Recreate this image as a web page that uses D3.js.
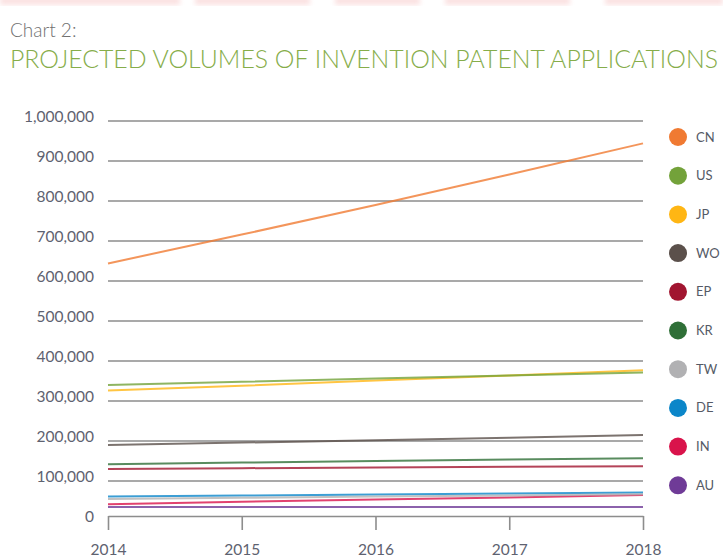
<!DOCTYPE html>
<html><head><meta charset="utf-8">
<script src="https://cdn.jsdelivr.net/npm/d3@7"></script>
<style>body{margin:0;background:#fff;}svg{display:block;}</style>
</head><body>
<svg id="c" width="723" height="557"></svg>
<script>
const years = [2014, 2015, 2016, 2017, 2018];
const yTicks = [0, 100000, 200000, 300000, 400000, 500000, 600000, 700000, 800000, 900000, 1000000];
const seriesNames = ["CN", "US", "JP", "WO", "EP", "KR", "TW", "DE", "IN", "AU"];
const seriesColors = ["#f07a32", "#73a23a", "#ffb614", "#5b504b", "#a11530", "#2f6f37", "#b1b1b3", "#0b86c9", "#d9134b", "#6f3b97"];
const CN = [644000, 716000, 790000, 866000, 944000];
const US = [340000, 348000, 356000, 364000, 371000];
const JP = [326000, 338000, 351000, 364000, 377000];
const WO = [190000, 196000, 202000, 208000, 215000];
const EP = [130000, 132000, 134000, 135500, 137000];
const KR = [142000, 146000, 150000, 153500, 157000];
const TW = [55000, 58000, 61000, 64000, 67000];
const DE = [61000, 63500, 66000, 68500, 71000];
const IN = [42000, 48000, 53500, 59000, 65000];
const AU = [35000, 35000, 35000, 35000, 35000];
const seriesValues = [CN, US, JP, WO, EP, KR, TW, DE, IN, AU];

const svg = d3.select("#c");
const x = d3.scaleLinear().domain([2014, 2018]).range([108, 643]);
const y = d3.scaleLinear().domain([0, 1000000]).range([521, 121]);

// faint blurred top strip
const defs = svg.append("defs");
defs.append("filter").attr("id","blur").append("feGaussianBlur").attr("stdDeviation",2.5);
const strip = svg.append("g").attr("filter","url(#blur)");
[[0,180],[195,115],[335,85],[445,125],[605,118]].forEach(([a,w])=>{
  strip.append("rect").attr("x",a).attr("y",-4).attr("width",w).attr("height",9).attr("fill","#fbe2e2");
});

svg.append("text").attr("x",10).attr("y",37).attr("font-family","Lato, 'Open Sans', sans-serif")
  .attr("font-weight",300).attr("font-size",19).attr("fill","#707070").text("Chart 2:");
svg.append("text").attr("x",10).attr("y",68).attr("font-family","Lato, 'Open Sans', sans-serif")
  .attr("font-weight",300).attr("font-size",25).attr("fill","#86ad4a")
  .attr("textLength",708).attr("lengthAdjust","spacingAndGlyphs")
  .text("PROJECTED VOLUMES OF INVENTION PATENT APPLICATIONS");

// gridlines
svg.append("g").selectAll("line").data(yTicks.filter(d=>d>0)).join("line")
  .attr("x1",x(2014)).attr("x2",x(2018)).attr("y1",d=>y(d)).attr("y2",d=>y(d))
  .attr("stroke","#8d8d8d").attr("stroke-width",1.6);

// y labels
svg.append("g").selectAll("text").data(yTicks).join("text")
  .attr("x",94).attr("y",d=>y(d)-4).attr("dy","0.35em").attr("text-anchor","end")
  .attr("font-family","Lato, 'Open Sans', sans-serif").attr("font-size",15.5).attr("fill","#5e6270")
  .text(d=>d3.format(",")(d));

// x axis
const xAxis = d3.axisBottom(x).tickValues(years).tickFormat(d3.format("d")).tickSize(14).tickSizeOuter(0);
const gx = svg.append("g").attr("transform","translate(0,516)").call(xAxis);
gx.select(".domain").attr("stroke","#8d8d8d").attr("stroke-width",1.6);
gx.selectAll(".tick line").attr("stroke","#8d8d8d").attr("stroke-width",1.6);
gx.selectAll(".tick text").attr("font-family","Lato, 'Open Sans', sans-serif").attr("font-size",15.5)
  .attr("fill","#5e6270").attr("dy","1.45em");

// lines (draw in reverse so CN on top)
const line = d3.line().x((d,i)=>x(years[i])).y(d=>y(d));
const order = d3.range(seriesNames.length).reverse();
svg.append("g").selectAll("path").data(order).join("path")
  .attr("d",i=>line(seriesValues[i])).attr("fill","none")
  .attr("stroke",i=>seriesColors[i]).attr("stroke-width",2).attr("stroke-opacity",0.8);

// legend
const lg = svg.append("g").selectAll("g").data(seriesNames).join("g")
  .attr("transform",(d,i)=>`translate(678,${137 + i*38.7})`);
lg.append("circle").attr("r",9).attr("fill",(d,i)=>seriesColors[i]);
lg.append("text").attr("x",18).attr("dy","0.35em").attr("font-family","Lato, 'Open Sans', sans-serif")
  .attr("font-size",13).attr("fill","#555a66").text(d=>d);
</script>
</body></html>
